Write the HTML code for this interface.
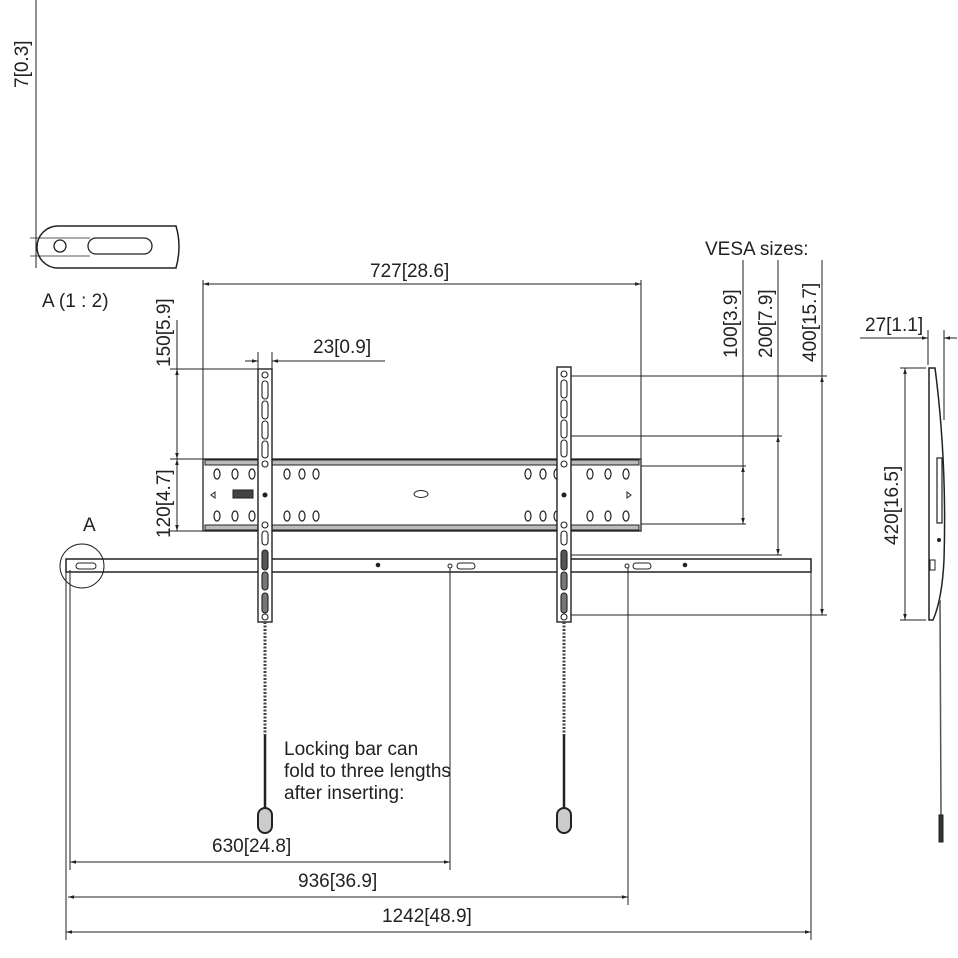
<!DOCTYPE html>
<html><head><meta charset="utf-8"><style>
html,body{margin:0;padding:0;background:#fff}
svg{display:block}
text{font-family:"Liberation Sans",sans-serif;font-size:19px;fill:#222}
</style></head><body>
<svg width="958" height="958" viewBox="0 0 958 958" xmlns="http://www.w3.org/2000/svg">
<defs>
<marker id="ar" viewBox="0 0 10 10" refX="10" refY="5" markerWidth="8" markerHeight="6" orient="auto-start-reverse"><path d="M0,2 L10,5 L0,8 z" fill="#222"/></marker>
</defs>
<g stroke="#222" fill="none" stroke-width="1">
<!-- Detail A -->
<line x1="36" y1="0" x2="36" y2="268"/>
<line x1="30" y1="238" x2="90" y2="238" stroke-width="0.7"/>
<line x1="30" y1="256" x2="90" y2="256" stroke-width="0.7"/>
<path d="M58,226 L176,226 Q182,246 176,268 L58,268 A21,21 0 0 1 58,226 Z" stroke-width="1.5"/>
<circle cx="60" cy="246" r="6" stroke-width="1.3"/>
<rect x="88" y="238" width="64" height="16" rx="8" stroke-width="1.3"/>

<!-- 727 dim -->
<line x1="203" y1="284" x2="641" y2="284" marker-start="url(#ar)" marker-end="url(#ar)"/>
<line x1="203" y1="280" x2="203" y2="459"/>
<line x1="641" y1="280" x2="641" y2="459"/>
<!-- 23 dim -->
<line x1="245" y1="361" x2="258" y2="361" marker-end="url(#ar)"/>
<line x1="272" y1="361" x2="385" y2="361" marker-start="url(#ar)"/>
<line x1="258" y1="352" x2="258" y2="369"/>
<line x1="272" y1="352" x2="272" y2="369"/>
<!-- 150 / 120 -->
<line x1="177" y1="369" x2="177" y2="459" marker-start="url(#ar)" marker-end="url(#ar)"/>
<line x1="177" y1="459" x2="177" y2="531" marker-start="url(#ar)" marker-end="url(#ar)"/>
<line x1="177" y1="320" x2="177" y2="369"/>
<line x1="170" y1="369" x2="258" y2="369"/>
<line x1="170" y1="459" x2="203" y2="459"/>
<line x1="170" y1="531" x2="203" y2="531"/>

<!-- VESA dims -->
<line x1="571" y1="376" x2="827" y2="376"/>
<line x1="571" y1="436" x2="782" y2="436"/>
<line x1="641" y1="466" x2="746" y2="466"/>
<line x1="641" y1="524" x2="746" y2="524"/>
<line x1="571" y1="555" x2="782" y2="555"/>
<line x1="571" y1="615" x2="827" y2="615"/>
<line x1="743" y1="260" x2="743" y2="466"/>
<line x1="743" y1="466" x2="743" y2="524" marker-start="url(#ar)" marker-end="url(#ar)"/>
<line x1="778" y1="260" x2="778" y2="436"/>
<line x1="778" y1="436" x2="778" y2="555" marker-start="url(#ar)" marker-end="url(#ar)"/>
<line x1="822" y1="260" x2="822" y2="376"/>
<line x1="822" y1="376" x2="822" y2="615" marker-start="url(#ar)" marker-end="url(#ar)"/>

<!-- plate -->
<rect x="203" y="459" width="438" height="72" stroke-width="1.3"/>
<rect x="205" y="460" width="434" height="5" fill="#bbb" stroke-width="1"/>
<rect x="205" y="525" width="434" height="5" fill="#bbb" stroke-width="1"/>
<ellipse cx="421" cy="494" rx="7" ry="3.5"/>
<g stroke-width="1.2">
<ellipse cx="217" cy="474" rx="3" ry="5"/><ellipse cx="235" cy="474" rx="3" ry="5"/><ellipse cx="252" cy="474" rx="3" ry="5"/><ellipse cx="287" cy="474" rx="3" ry="5"/><ellipse cx="302" cy="474" rx="3" ry="5"/><ellipse cx="316" cy="474" rx="3" ry="5"/>
<ellipse cx="217" cy="516" rx="3" ry="5"/><ellipse cx="235" cy="516" rx="3" ry="5"/><ellipse cx="252" cy="516" rx="3" ry="5"/><ellipse cx="287" cy="516" rx="3" ry="5"/><ellipse cx="302" cy="516" rx="3" ry="5"/><ellipse cx="316" cy="516" rx="3" ry="5"/>
<ellipse cx="528" cy="474" rx="3" ry="5"/><ellipse cx="543" cy="474" rx="3" ry="5"/><ellipse cx="557" cy="474" rx="3" ry="5"/><ellipse cx="590" cy="474" rx="3" ry="5"/><ellipse cx="608" cy="474" rx="3" ry="5"/><ellipse cx="626" cy="474" rx="3" ry="5"/>
<ellipse cx="528" cy="516" rx="3" ry="5"/><ellipse cx="543" cy="516" rx="3" ry="5"/><ellipse cx="557" cy="516" rx="3" ry="5"/><ellipse cx="590" cy="516" rx="3" ry="5"/><ellipse cx="608" cy="516" rx="3" ry="5"/><ellipse cx="626" cy="516" rx="3" ry="5"/>
</g>
<path d="M215,492 L211,495 L215,498z"/><path d="M627,492 L631,495 L627,498z"/>
<rect x="233" y="490" width="20" height="8" fill="#444"/>

<!-- long bar -->
<rect x="66" y="559" width="745" height="13" fill="#fff" stroke-width="1.5"/>
<rect x="76" y="563" width="20" height="6" rx="3"/>
<rect x="457" y="563" width="18" height="6" rx="3"/><circle cx="450" cy="566" r="2"/>
<rect x="633" y="563" width="18" height="6" rx="3"/><circle cx="627" cy="566" r="2"/>
<circle cx="378" cy="565" r="1.8" fill="#222"/><circle cx="685" cy="565" r="1.8" fill="#222"/>
<circle cx="82" cy="566" r="22"/>

<!-- uprights -->
<g stroke-width="1.4">
<rect x="258" y="369" width="14" height="253" fill="#fff"/>
<rect x="557" y="367" width="14" height="255" fill="#fff"/>
</g>
<g stroke-width="1.1">
<circle cx="265" cy="375" r="3"/><rect x="262" y="381" width="6" height="18" rx="3"/><rect x="262" y="401" width="6" height="18" rx="3"/><rect x="262" y="421" width="6" height="18" rx="3"/><rect x="262" y="441" width="6" height="17" rx="3"/><circle cx="265" cy="464" r="3"/><circle cx="265" cy="495" r="2" fill="#222"/><circle cx="265" cy="525" r="3"/>
<rect x="262" y="531" width="6" height="14" rx="3"/><rect x="262" y="550" width="6" height="20" rx="3" fill="#555"/><rect x="262" y="572" width="6" height="18" rx="3" fill="#777"/><rect x="262" y="593" width="6" height="20" rx="3" fill="#777"/><circle cx="265" cy="617" r="3"/>
<circle cx="564" cy="374" r="3"/><rect x="561" y="380" width="6" height="18" rx="3"/><rect x="561" y="400" width="6" height="18" rx="3"/><rect x="561" y="420" width="6" height="18" rx="3"/><rect x="561" y="440" width="6" height="17" rx="3"/><circle cx="564" cy="464" r="3"/><circle cx="564" cy="495" r="2" fill="#222"/><circle cx="564" cy="525" r="3"/>
<rect x="561" y="531" width="6" height="14" rx="3"/><rect x="561" y="550" width="6" height="20" rx="3" fill="#555"/><rect x="561" y="572" width="6" height="18" rx="3" fill="#777"/><rect x="561" y="593" width="6" height="20" rx="3" fill="#777"/><circle cx="564" cy="617" r="3"/>
</g>
<!-- chains -->
<line x1="265" y1="622" x2="265" y2="735" stroke="#444" stroke-width="3" stroke-dasharray="2,1.5"/>
<line x1="265" y1="735" x2="265" y2="808" stroke-width="2.5"/>
<rect x="258" y="808" width="14" height="25" rx="7" stroke-width="2" fill="#ccc"/>
<line x1="564" y1="622" x2="564" y2="735" stroke="#444" stroke-width="3" stroke-dasharray="2,1.5"/>
<line x1="564" y1="735" x2="564" y2="808" stroke-width="2.5"/>
<rect x="557" y="808" width="14" height="25" rx="7" stroke-width="2" fill="#ccc"/>

<!-- bottom dims -->
<line x1="70" y1="570" x2="70" y2="870"/>
<line x1="450" y1="568" x2="450" y2="870"/>
<line x1="628" y1="568" x2="628" y2="905"/>
<line x1="66" y1="572" x2="66" y2="940"/>
<line x1="811" y1="572" x2="811" y2="940"/>
<line x1="70" y1="862" x2="450" y2="862" marker-start="url(#ar)" marker-end="url(#ar)"/>
<line x1="68" y1="897" x2="628" y2="897" marker-start="url(#ar)" marker-end="url(#ar)"/>
<line x1="66" y1="932" x2="811" y2="932" marker-start="url(#ar)" marker-end="url(#ar)"/>

<!-- side profile -->
<path d="M929,368 L935,368 Q947,460 944,560 Q942,600 933,620 L929,620 Z" stroke-width="1.5"/>
<rect x="937" y="458" width="5" height="65" stroke-width="1.2"/>
<rect x="930" y="560" width="5" height="10"/>
<circle cx="939" cy="540" r="1.5" fill="#222"/>
<line x1="940" y1="600" x2="941" y2="815" stroke-width="1.5" stroke="#555"/>
<rect x="939" y="815" width="4" height="27" fill="#333"/>
<line x1="905" y1="368" x2="905" y2="620" marker-start="url(#ar)" marker-end="url(#ar)"/>
<line x1="900" y1="368" x2="926" y2="368"/>
<line x1="900" y1="620" x2="926" y2="620"/>
<line x1="860" y1="338" x2="928" y2="338" marker-end="url(#ar)"/>
<line x1="944" y1="338" x2="957" y2="338" marker-start="url(#ar)"/>
<line x1="928" y1="330" x2="928" y2="365"/>
<line x1="944" y1="330" x2="944" y2="420"/>
</g>

<!-- brackets for dims (drawn as text) -->
<g>
<text x="12" y="88" transform="rotate(-90 12 88)" dx="0" dy="16">7[0.3]</text>
<text x="42" y="307">A (1 : 2)</text>
<text x="370" y="277">727[28.6]</text>
<text x="313" y="353">23[0.9]</text>
<text x="170" y="367" transform="rotate(-90 170 367)">150[5.9]</text>
<text x="170" y="538" transform="rotate(-90 170 538)">120[4.7]</text>
<text x="705" y="255">VESA sizes:</text>
<text x="737" y="358" transform="rotate(-90 737 358)">100[3.9]</text>
<text x="772" y="358" transform="rotate(-90 772 358)">200[7.9]</text>
<text x="816" y="362" transform="rotate(-90 816 362)">400[15.7]</text>
<text x="865" y="331">27[1.1]</text>
<text x="898" y="545" transform="rotate(-90 898 545)">420[16.5]</text>
<text x="83" y="531">A</text>
<text x="284" y="755">Locking bar can</text>
<text x="284" y="777">fold to three lengths</text>
<text x="284" y="799">after inserting:</text>
<text x="212" y="852">630[24.8]</text>
<text x="298" y="887">936[36.9]</text>
<text x="382" y="922">1242[48.9]</text>
</g>
</svg>
</body></html>
